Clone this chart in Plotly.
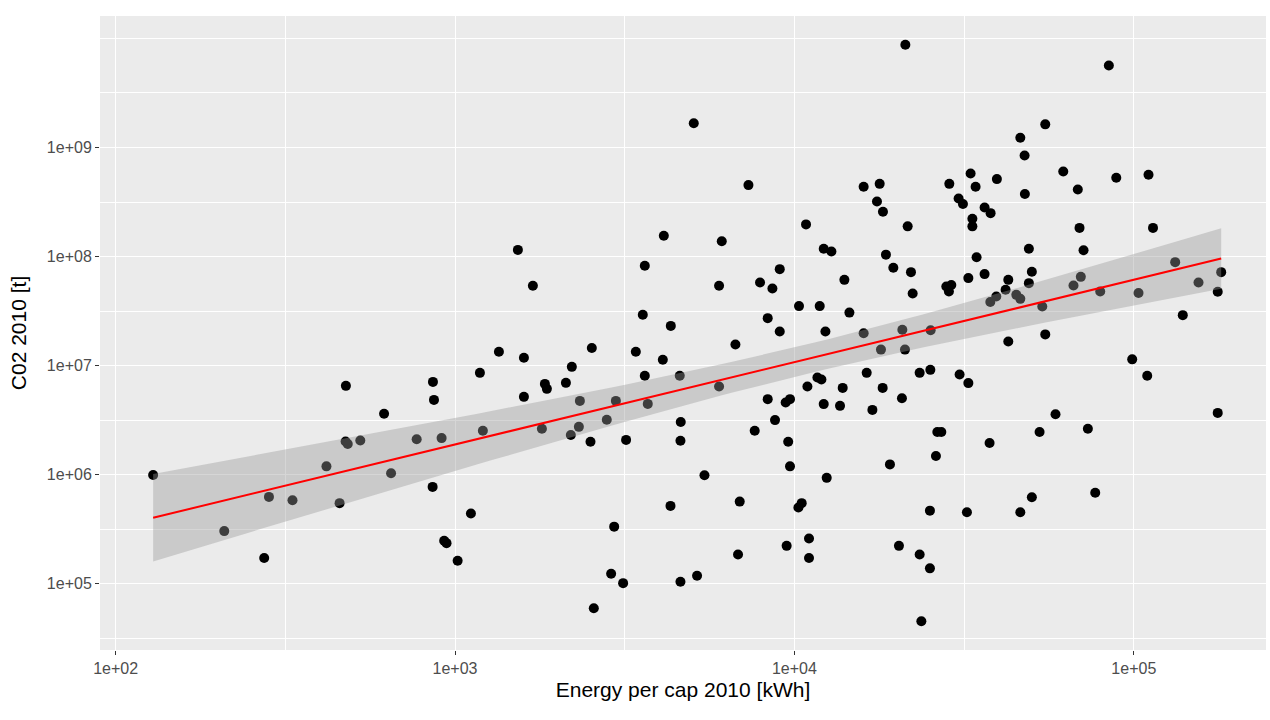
import numpy as np
import plotly.graph_objects as go

# Energy use per capita in 2010 (kWh) and CO2 emissions in 2010 (t), one entry per country
energy_per_cap = [
    129, 209, 274, 283, 332, 418, 457, 476, 483, 526,
    477, 618, 648, 771, 913, 859, 861, 867, 929, 944,
    1018, 1114, 1184, 1208, 1347, 1532, 1596, 1596, 1696, 1803,
    1840, 1865, 2122, 2194, 2209, 2317, 2333, 2507, 2530, 2564,
    2800, 2884, 2944, 2978, 3128, 3192, 3410, 3575, 3624, 3624,
    3698, 4095, 4123, 4314, 4323, 4594, 4625, 4616, 4616, 5052,
    5166, 5433, 5998, 5998, 6109, 6702, 6821, 6900, 7321, 7639,
    7919, 8343, 8343, 8613, 8768, 9053, 9053, 9424, 9487, 9587,
    9705, 9705, 10275, 10316, 10507, 10819, 10922, 11041, 11041, 11688,
    11873, 12010, 12200, 12200, 12341, 12450, 12852, 13626, 13876, 14036,
    14521, 15996, 15996, 16329, 16974, 17510, 17833, 17989, 18197, 18234,
    18607, 19119, 19564, 20324, 20740, 20797, 21169, 21226, 21562, 22050,
    22305, 23389, 23389, 23660, 25078, 25078, 25148, 25200, 26121, 26370,
    27094, 28027, 28991, 28524, 28603, 30467, 31370, 30671, 32546, 32546,
    32232, 33045, 34185, 33447, 33447, 34417, 36336, 37845, 36336, 37589,
    37770, 39340, 39502, 41899, 42673, 42673, 45060, 46300, 46300, 46300,
    47660, 47760, 49070, 49070, 50070, 50070, 52770, 53740, 54840, 54840,
    58790, 61960, 66420, 68390, 69190, 69800, 71100, 73220, 76970, 79620,
    84420, 88780, 98920, 103250, 109520, 110490, 113900, 132400, 139400, 155100,
    176700, 176700, 180900,
]

co2_2010 = [
    9.9e5, 3.03e5, 1.72e5, 6.24e5, 5.82e5, 1.19e6, 5.47e5, 2.01e6, 1.91e6, 2.05e6,
    6.51e6, 3.61e6, 1.03e6, 2.11e6, 2.16e6, 7.71e5, 7.08e6, 4.84e6, 2.47e5, 2.35e5,
    1.62e5, 4.39e5, 8.57e6, 2.52e6, 1.34e7, 1.15e8, 1.18e7, 5.16e6, 5.39e7, 2.63e6,
    6.79e6, 6.11e6, 6.94e6, 2.31e6, 9.73e6, 2.74e6, 4.74e6, 2.0e6, 1.45e7, 5.95e4,
    3.18e6, 1.23e5, 3.33e5, 4.74e6, 1.01e5, 2.08e6, 1.34e7, 2.92e7, 8.22e7, 8.05e6,
    4.45e6, 1.13e7, 1.55e8, 5.16e5, 2.31e7, 8.05e6, 3.04e6, 2.04e6, 1.04e5, 1.67e9,
    1.18e5, 9.87e5, 5.39e7, 6.42e6, 1.38e8, 1.56e7, 1.85e5, 5.65e5, 4.52e8, 2.52e6,
    5.77e7, 2.72e7, 4.92e6, 5.09e7, 3.16e6, 7.66e7, 2.05e7, 4.58e6, 2.22e5, 2.0e6,
    4.92e6, 1.19e6, 4.98e5, 3.51e7, 5.47e5, 1.97e8, 6.42e6, 2.59e5, 1.72e5, 7.76e6,
    3.51e7, 7.44e6, 1.18e8, 4.43e6, 2.05e7, 9.33e5, 1.11e8, 4.27e6, 6.24e6, 6.11e7,
    3.06e7, 4.36e8, 1.98e7, 8.57e6, 3.92e6, 3.2e8, 4.64e8, 1.40e7, 6.24e6, 2.57e8,
    1.04e8, 1.24e6, 7.88e7, 2.22e5, 5.02e6, 2.13e7, 1.40e7, 8.75e9, 1.89e8, 7.19e7,
    4.58e7, 8.57e6, 1.85e5, 4.52e4, 4.67e5, 1.38e5, 9.13e6, 2.11e7, 1.48e6, 2.46e6,
    2.46e6, 5.31e7, 5.47e7, 4.77e7, 4.64e8, 3.41e8, 3.03e8, 8.27e6, 6.34e7, 6.9e6,
    4.52e5, 5.77e8, 4.36e8, 2.22e8, 1.89e8, 9.84e7, 2.82e8, 2.5e8, 6.9e7, 1.95e6,
    3.82e7, 4.3e7, 5.13e8, 4.95e7, 6.11e7, 1.66e7, 4.45e7, 4.09e7, 1.23e9, 4.52e5,
    8.45e8, 3.74e8, 1.18e8, 5.7e7, 7.24e7, 6.2e5, 2.46e6, 3.48e7, 1.63e9, 1.93e7,
    3.58e6, 6.03e8, 5.42e7, 4.12e8, 1.83e8, 6.51e7, 1.14e8, 2.63e6, 6.8e5, 4.77e7,
    5.65e9, 5.27e8, 1.14e7, 4.62e7, 8.05e6, 5.62e8, 1.83e8, 8.88e7, 2.9e7, 5.77e7,
    4.75e7, 3.68e6, 7.19e7,
]

x_ticks = [1e2, 1e3, 1e4, 1e5]
x_ticktext = ["1e+02", "1e+03", "1e+04", "1e+05"]
y_ticks = [1e5, 1e6, 1e7, 1e8, 1e9]
y_ticktext = ["1e+05", "1e+06", "1e+07", "1e+08", "1e+09"]

# Linear model on log10 scales with a 95% confidence band (80 evaluation points)
lx = np.log10(np.array(energy_per_cap, dtype=float))
ly = np.log10(np.array(co2_2010, dtype=float))
n = len(lx)
slope, intercept = np.polyfit(lx, ly, 1)
resid = ly - (intercept + slope * lx)
s = np.sqrt(np.sum(resid ** 2) / (n - 2))
sxx = np.sum((lx - lx.mean()) ** 2)
t_crit = 1.9726  # 97.5% quantile of Student t, df = n - 2
grid = np.linspace(lx.min(), lx.max(), 80)
fit = intercept + slope * grid
se = s * np.sqrt(1.0 / n + (grid - lx.mean()) ** 2 / sxx)
upper = fit + t_crit * se
lower = fit - t_crit * se

gx = 10 ** grid
band_x = np.concatenate([gx, gx[::-1]])
band_y = np.concatenate([10 ** upper, (10 ** lower)[::-1]])

fig = go.Figure()
fig.add_trace(go.Scatter(
    x=energy_per_cap, y=co2_2010, mode="markers",
    marker=dict(color="black", size=10, line=dict(width=0)),
    showlegend=False, hoverinfo="x+y",
))
fig.add_trace(go.Scatter(
    x=band_x, y=band_y, mode="lines", fill="toself",
    fillcolor="rgba(153,153,153,0.4)", line=dict(width=0),
    showlegend=False, hoverinfo="skip",
))
fig.add_trace(go.Scatter(
    x=gx, y=10 ** fit, mode="lines",
    line=dict(color="#FF0000", width=2),
    showlegend=False, hoverinfo="skip",
))

font_family = "Arial, Liberation Sans, sans-serif"
left_px, right_px, top_px, bottom_px = 100, 4, 16, 70
W, H = 1270, 720
x_lo = 1.954
y_lo, y_hi = 4.391, 10.206
x_hi = x_lo + (W - left_px - right_px) / 339.4

fig.update_layout(
    width=W, height=H,
    margin=dict(l=left_px, r=right_px, t=top_px, b=bottom_px),
    paper_bgcolor="white", plot_bgcolor="#EBEBEB",
    font=dict(family=font_family, color="#4D4D4D", size=16),
    showlegend=False,
)
fig.update_xaxes(
    type="log", range=[x_lo, x_hi],
    tickmode="array", tickvals=x_ticks, ticktext=x_ticktext,
    showgrid=True, gridcolor="white", gridwidth=1.4,
    ticks="outside", ticklen=4, tickcolor="#333333", tickwidth=1,
    tickfont=dict(family=font_family, size=16, color="#4D4D4D"),
    minor=dict(tickvals=[10 ** 1.5, 10 ** 2.5, 10 ** 3.5, 10 ** 4.5],
               showgrid=True, gridcolor="white", gridwidth=0.8, ticks=""),
    zeroline=False, showline=False,
    title=dict(text="Energy per cap 2010 [kWh]",
               font=dict(family=font_family, size=21, color="black"), standoff=6),
)
fig.update_yaxes(
    type="log", range=[y_lo, y_hi],
    tickmode="array", tickvals=y_ticks, ticktext=y_ticktext,
    showgrid=True, gridcolor="white", gridwidth=1.4,
    ticks="outside", ticklen=4, tickcolor="#333333", tickwidth=1,
    tickfont=dict(family=font_family, size=16, color="#4D4D4D"),
    minor=dict(tickvals=[10 ** 4.5, 10 ** 5.5, 10 ** 6.5, 10 ** 7.5, 10 ** 8.5, 10 ** 9.5, 1e10],
               showgrid=True, gridcolor="white", gridwidth=0.8, ticks=""),
    zeroline=False, showline=False,
    title=dict(text="C02 2010 [t]",
               font=dict(family=font_family, size=21, color="black"), standoff=14),
)

fig.write_html("out.html")
